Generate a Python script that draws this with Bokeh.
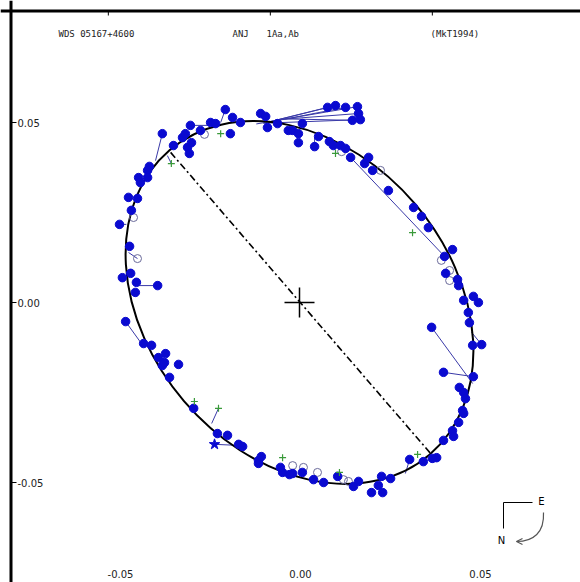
import math
from bokeh.plotting import figure
from bokeh.models import Range1d, Span
from bokeh.core.properties import value
from bokeh.embed import file_html
from bokeh.resources import INLINE

# ---- data (milliarcseconds) ----
# filled circles: observed positions
obs_x = [-38.1,-20.6,-30.3,-35.0,-32.5,-31.7,-31.1,-30.6,-30.0,-27.5,-24.7,-23.3,-19.2,-18.6,-16.4,-10.8,-9.4,-8.9,-6.1,-3.1,
         -41.7,-42.2,-44.7,-42.2,-44.2,-47.5,-45.0,-46.7,-50.0,-47.2,-49.2,-46.9,-45.3,-45.6,-39.4,-48.3,
         7.8,10.0,12.8,16.1,16.4,16.9,14.7,0.8,-1.9,-0.3,-0.3,4.2,
         5.3,8.3,9.4,11.4,12.8,14.2,19.2,18.1,20.3,24.7,31.7,33.9,35.8,42.5,40.3,40.6,43.9,44.2,48.3,49.7,45.6,46.9,47.2,36.7,
         48.1,50.6,40.0,48.3,44.4,45.6,46.1,45.3,45.6,44.2,42.5,42.8,40.0,38.1,36.9,34.4,30.6,
         25.3,22.8,21.9,20.0,23.1,16.4,15.0,10.6,6.7,3.9,0.8,-1.9,-2.8,-4.7,-5.3,-11.4,-10.6,-11.4,
         -16.9,-15.8,-20.0,-22.8,-29.4,-36.1,-33.6,-38.1,-37.5,-37.2,-39.2,-41.1,-43.3]
obs_y = [46.9,53.6,49.2,43.6,45.8,46.9,43.1,41.4,44.4,47.8,50.0,49.7,46.9,51.4,50.0,52.5,51.7,48.6,49.7,47.8,
         37.8,36.7,34.7,34.7,33.3,29.2,28.9,25.6,21.7,15.6,6.9,8.1,5.6,2.8,4.7,-5.3,
         54.2,54.7,54.2,54.4,52.5,50.8,50.6,49.7,47.8,46.9,44.4,43.3,
         46.1,44.7,43.6,43.6,42.8,40.3,40.3,38.6,36.7,31.1,26.4,23.9,20.8,14.7,12.8,8.1,6.4,4.7,1.7,0.0,0.6,-2.8,-5.6,-6.9,
         -11.9,-11.7,-19.4,-20.6,-23.6,-25.0,-26.7,-30.0,-30.8,-33.3,-35.6,-37.2,-38.3,-43.1,-43.3,-44.2,-43.6,
         -48.9,-48.3,-50.8,-52.8,-52.8,-49.7,-51.1,-48.3,-50.0,-49.2,-47.2,-47.5,-47.8,-47.2,-45.8,-43.9,-42.8,-44.7,
         -39.4,-40.0,-36.9,-36.4,-29.4,-20.8,-17.2,-17.5,-16.7,-14.2,-15.3,-11.9,-11.4]

# open circles
open_x = [-26.4,-46.1,-45.0,22.5,39.4,41.7,41.7,13.6,12.2,5.0,1.1,-1.9,11.7]
open_y = [46.7,23.6,12.2,36.7,11.7,8.9,6.1,-49.7,-49.2,-47.2,-45.8,-45.3,41.9]

# green plus (visual)
vis_x = [-35.6,-21.9,10.0,31.4,32.8,11.1,-4.7,-29.2,-22.5]
vis_y = [38.6,46.9,41.4,19.4,-42.2,-47.2,-43.1,-27.5,-29.4]

# star
star_x = [-23.6]
star_y = [-39.4]

# O-C segments: observed -> predicted
oc_x0 = [-38.1,-20.6,-30.3,-50.0,-45.0,-39.4,-48.3,-35.6,4.2,40.3,36.7,40.0,30.6,-22.5,-23.6,50.6,
         7.8,10.0,12.8,16.1,16.4,16.9,14.7]
oc_y0 = [46.9,53.6,49.2,21.7,12.2,4.7,-5.3,38.6,43.3,12.8,-6.9,-19.4,-43.6,-29.4,-39.4,-11.7,
         54.2,54.7,54.2,54.4,52.5,50.8,50.6]
oc_x1 = [-40.0,-21.9,-23.9,-48.1,-47.5,-46.1,-43.9,-36.7,4.2,14.2,48.1,48.3,29.4,-24.4,-16.9,47.8,
         -9.0,-8.0,-10.0,-12.0,-6.0,-10.0,-4.0]
oc_y1 = [39.4,50.0,49.2,21.7,13.9,4.7,-11.4,40.8,45.8,40.3,-22.5,-20.6,-47.5,-33.6,-39.7,-8.3,
         50.0,50.3,49.8,49.6,50.8,49.8,51.0]

# orbit (apparent ellipse) and line of nodes
orb_a = 55.6
orb_b = 42.2
orb_angle_deg = 130.5
node_x = [-35.8, 36.9]
node_y = [41.7, -42.5]

tick_vals = [-0.05, 0.00, 0.05]
tick_labels = ["-0.05", "0.00", "0.05"]
top_tick_x = [-0.0531, -0.0081, 0.0369]

m = 0.001
S = 3600.0  # px per arcsec
W, H = 580, 582
ox, oy = 299, 302  # canvas position of origin

p = figure(width=W, height=H, output_backend="svg", toolbar_location=None,
           x_range=Range1d(-ox / S, (W - ox) / S), y_range=Range1d(-(H - oy) / S, oy / S),
           min_border=0, title=None)
p.axis.visible = False
p.grid.visible = False
p.outline_line_color = None
p.background_fill_color = "white"

def px(dx):
    return dx / S

# frame (left and top edges)
p.add_layout(Span(location=-ox / S + px(10.5), dimension="height", line_color="black", line_width=3))
p.add_layout(Span(location=oy / S - px(10.5), dimension="width", line_color="black", line_width=3))

# top ticks
p.segment(x0=top_tick_x, y0=[oy / S - px(10)] * 3, x1=top_tick_x, y1=[oy / S - px(15)] * 3,
          line_color="black", line_width=1)
# left ticks
lx = -ox / S
p.segment(x0=[lx + px(11)] * 3, y0=tick_vals, x1=[lx + px(16)] * 3, y1=tick_vals,
          line_color="black", line_width=1)
p.text(x=[lx + px(17)] * 3, y=tick_vals, text=tick_labels, text_font=value("DejaVu Sans"),
       text_font_size="10px", text_baseline="middle", text_align="left", text_color="#222222")
# bottom labels
p.text(x=[v + px(1) for v in tick_vals], y=[-(H - oy) / S + px(9)] * 3,
       text=tick_labels, text_font=value("DejaVu Sans"), text_font_size="10px",
       text_baseline="middle", text_align="center", text_color="#222222")

# header
hy = px(302 - 33)
for hx, ht in [(58, "WDS 05167+4600"), (232, "ANJ"), (266, "1Aa,Ab"), (430, "(MkT1994)")]:
    p.text(x=[px(hx - 299)], y=[hy], text=[ht], text_font=value("DejaVu Sans Mono"),
           text_font_size="9px", text_baseline="middle", text_align="left", text_color="#222222")

# line of nodes
p.line([v * m for v in node_x], [v * m for v in node_y], line_color="black", line_width=1.6,
       line_dash="7 3 2 3")

# O-C lines
p.segment(x0=[v * m for v in oc_x0], y0=[v * m for v in oc_y0], x1=[v * m for v in oc_x1],
          y1=[v * m for v in oc_y1], line_color="#3a3aa8", line_width=1)

# orbit
p.ellipse(x=[0], y=[0], width=[2 * orb_a * m], height=[2 * orb_b * m],
          angle=[math.radians(orb_angle_deg)], fill_color=None, line_color="black", line_width=2)

# primary
p.scatter(x=[0], y=[0], marker="cross", size=30, line_color="black", line_width=1.5)

# observations
p.scatter(x=[v * m for v in open_x], y=[v * m for v in open_y], marker="circle", size=8,
          fill_color=None, line_color="#6a6a9a", line_width=1)
p.scatter(x=[v * m for v in obs_x], y=[v * m for v in obs_y], marker="circle", size=8.5,
          fill_color="#0a0ad0", line_color="#0a0ad0")
p.scatter(x=[v * m for v in vis_x], y=[v * m for v in vis_y], marker="cross", size=7,
          line_color="#3a9a3a", line_width=1.2)
p.scatter(x=[v * m for v in star_x], y=[v * m for v in star_y], marker="star", size=11,
          fill_color="#0a0ad0", line_color="#0a0ad0")

# compass
cx, cy = px(503 - 299), px(302 - 502)
p.line([cx + px(29), cx, cx], [cy, cy, cy - px(26)], line_color="black", line_width=1)
p.text(x=[cx + px(38)], y=[cy + px(1)], text=["E"], text_font=value("DejaVu Sans"), text_font_size="10px",
       text_baseline="middle", text_align="center", text_color="black")
p.text(x=[cx - px(2)], y=[cy - px(38)], text=["N"], text_font=value("DejaVu Sans"), text_font_size="10px",
       text_baseline="middle", text_align="center", text_color="black")
p.bezier(x0=[cx + px(40)], y0=[cy - px(10)], x1=[cx + px(13)], y1=[cy - px(39)],
         cx0=[cx + px(41)], cy0=[cy - px(30)], cx1=[cx + px(30)], cy1=[cy - px(39)],
         line_color="#555555", line_width=1.2)
p.line([cx + px(19), cx + px(13), cx + px(19)], [cy - px(36), cy - px(39), cy - px(42)],
       line_color="#555555", line_width=1.2)

open("out.html", "w").write(file_html(p, INLINE))
